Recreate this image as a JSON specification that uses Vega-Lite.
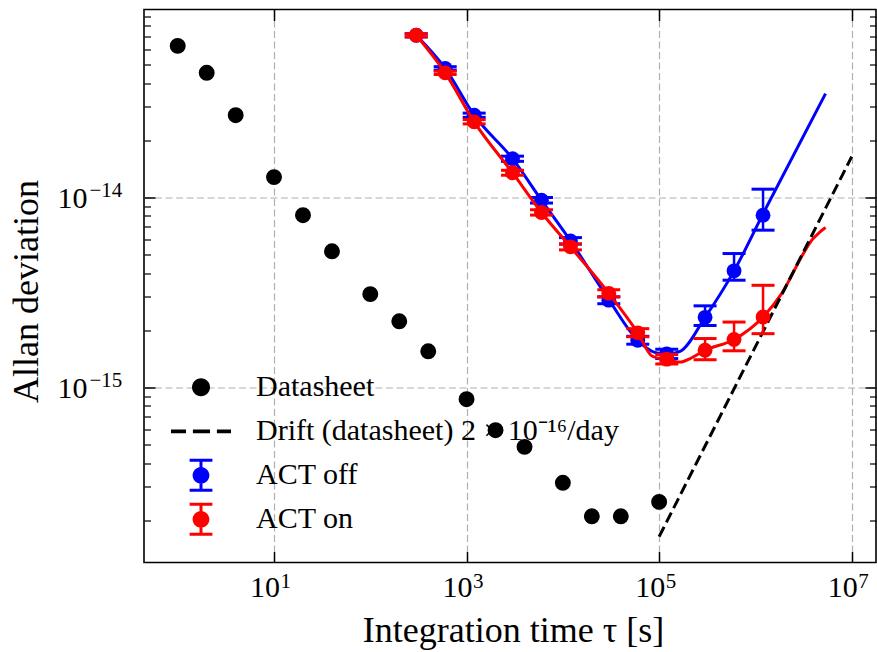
{
  "$schema": "https://vega.github.io/schema/vega-lite/v6.json",
  "autosize": {"type": "none"},
  "padding": {"left": 144, "top": 9.5, "right": 1, "bottom": 89.5},
  "width": 732,
  "height": 553,
  "background": "white",
  "config": {
    "font": "Liberation Serif",
    "view": {"stroke": "black", "strokeWidth": 1.6},
    "axis": {
      "domain": false,
      "labelFont": "Liberation Serif",
      "titleFont": "Liberation Serif",
      "labelColor": "black",
      "titleColor": "black",
      "tickColor": "black",
      "titleFontWeight": "normal",
      "gridColor": "#b0b0b0",
      "gridDash": [7, 3.5],
      "gridWidth": 1.2,
      "labelFlush": false,
      "labelOverlap": false
    }
  },
  "datasets": {
    "sheet": [
      {"tau": 1, "adev": 6.28e-14},
      {"tau": 2, "adev": 4.53e-14},
      {"tau": 4, "adev": 2.71e-14},
      {"tau": 10, "adev": 1.28e-14},
      {"tau": 20, "adev": 8.07e-15},
      {"tau": 40, "adev": 5.21e-15},
      {"tau": 100, "adev": 3.1e-15},
      {"tau": 200, "adev": 2.23e-15},
      {"tau": 400, "adev": 1.55e-15},
      {"tau": 1000, "adev": 8.68e-16},
      {"tau": 2000, "adev": 5.96e-16},
      {"tau": 4000, "adev": 4.87e-16},
      {"tau": 10000, "adev": 3.15e-16},
      {"tau": 20000, "adev": 2.1e-16},
      {"tau": 40000, "adev": 2.1e-16},
      {"tau": 100000, "adev": 2.5e-16}
    ],
    "drift": [
      {"tau": 100000, "adev": 1.64e-16},
      {"tau": 10000000, "adev": 1.64e-14}
    ],
    "act": [
      {"series": "ACT off", "tau": 300, "adev": 7.14e-14, "lo": 7.0e-14, "hi": 7.28e-14},
      {"series": "ACT off", "tau": 600, "adev": 4.78e-14, "lo": 4.68e-14, "hi": 4.88e-14},
      {"series": "ACT off", "tau": 1200, "adev": 2.71e-14, "lo": 2.64e-14, "hi": 2.78e-14},
      {"series": "ACT off", "tau": 3000, "adev": 1.6e-14, "lo": 1.55e-14, "hi": 1.65e-14},
      {"series": "ACT off", "tau": 6000, "adev": 9.68e-15, "lo": 9.35e-15, "hi": 1.0e-14},
      {"series": "ACT off", "tau": 12000, "adev": 5.91e-15, "lo": 5.68e-15, "hi": 6.15e-15},
      {"series": "ACT off", "tau": 30000, "adev": 2.88e-15, "lo": 2.76e-15, "hi": 3.0e-15},
      {"series": "ACT off", "tau": 60000, "adev": 1.77e-15, "lo": 1.69e-15, "hi": 1.86e-15},
      {"series": "ACT off", "tau": 120000, "adev": 1.5e-15, "lo": 1.42e-15, "hi": 1.59e-15},
      {"series": "ACT off", "tau": 300000, "adev": 2.34e-15, "lo": 2.12e-15, "hi": 2.69e-15},
      {"series": "ACT off", "tau": 600000, "adev": 4.11e-15, "lo": 3.67e-15, "hi": 5.07e-15},
      {"series": "ACT off", "tau": 1200000, "adev": 8.07e-15, "lo": 6.73e-15, "hi": 1.106e-14},
      {"series": "ACT on", "tau": 300, "adev": 7.14e-14, "lo": 7.0e-14, "hi": 7.28e-14},
      {"series": "ACT on", "tau": 600, "adev": 4.53e-14, "lo": 4.44e-14, "hi": 4.62e-14},
      {"series": "ACT on", "tau": 1200, "adev": 2.5e-14, "lo": 2.44e-14, "hi": 2.57e-14},
      {"series": "ACT on", "tau": 3000, "adev": 1.35e-14, "lo": 1.31e-14, "hi": 1.39e-14},
      {"series": "ACT on", "tau": 6000, "adev": 8.34e-15, "lo": 8.08e-15, "hi": 8.62e-15},
      {"series": "ACT on", "tau": 12000, "adev": 5.5e-15, "lo": 5.3e-15, "hi": 5.7e-15},
      {"series": "ACT on", "tau": 30000, "adev": 3.13e-15, "lo": 3.0e-15, "hi": 3.27e-15},
      {"series": "ACT on", "tau": 60000, "adev": 1.94e-15, "lo": 1.85e-15, "hi": 2.04e-15},
      {"series": "ACT on", "tau": 120000, "adev": 1.41e-15, "lo": 1.33e-15, "hi": 1.49e-15},
      {"series": "ACT on", "tau": 300000, "adev": 1.57e-15, "lo": 1.4e-15, "hi": 1.81e-15},
      {"series": "ACT on", "tau": 600000, "adev": 1.79e-15, "lo": 1.56e-15, "hi": 2.21e-15},
      {"series": "ACT on", "tau": 1200000, "adev": 2.35e-15, "lo": 1.92e-15, "hi": 3.45e-15}
    ],
    "fit": [
      {"series": "ACT off", "tau": 300, "adev": 7.14e-14},
      {"series": "ACT off", "tau": 600, "adev": 4.78e-14},
      {"series": "ACT off", "tau": 1200, "adev": 2.71e-14},
      {"series": "ACT off", "tau": 3000, "adev": 1.6e-14},
      {"series": "ACT off", "tau": 6000, "adev": 9.68e-15},
      {"series": "ACT off", "tau": 12000, "adev": 5.91e-15},
      {"series": "ACT off", "tau": 30000, "adev": 2.9e-15},
      {"series": "ACT off", "tau": 60000, "adev": 1.77e-15},
      {"series": "ACT off", "tau": 90000, "adev": 1.53e-15},
      {"series": "ACT off", "tau": 120000, "adev": 1.5e-15},
      {"series": "ACT off", "tau": 165000, "adev": 1.55e-15},
      {"series": "ACT off", "tau": 300000, "adev": 2.34e-15},
      {"series": "ACT off", "tau": 600000, "adev": 4.11e-15},
      {"series": "ACT off", "tau": 1200000, "adev": 8.2e-15},
      {"series": "ACT off", "tau": 5350000, "adev": 3.52e-14},
      {"series": "ACT on", "tau": 300, "adev": 7.14e-14},
      {"series": "ACT on", "tau": 600, "adev": 4.53e-14},
      {"series": "ACT on", "tau": 1200, "adev": 2.5e-14},
      {"series": "ACT on", "tau": 3000, "adev": 1.35e-14},
      {"series": "ACT on", "tau": 6000, "adev": 8.34e-15},
      {"series": "ACT on", "tau": 12000, "adev": 5.5e-15},
      {"series": "ACT on", "tau": 30000, "adev": 3.13e-15},
      {"series": "ACT on", "tau": 60000, "adev": 1.94e-15},
      {"series": "ACT on", "tau": 85000, "adev": 1.46e-15},
      {"series": "ACT on", "tau": 120000, "adev": 1.4e-15},
      {"series": "ACT on", "tau": 165000, "adev": 1.36e-15},
      {"series": "ACT on", "tau": 210000, "adev": 1.42e-15},
      {"series": "ACT on", "tau": 300000, "adev": 1.57e-15},
      {"series": "ACT on", "tau": 600000, "adev": 1.79e-15},
      {"series": "ACT on", "tau": 1200000, "adev": 2.35e-15},
      {"series": "ACT on", "tau": 1880000, "adev": 3.13e-15},
      {"series": "ACT on", "tau": 3150000, "adev": 5.07e-15},
      {"series": "ACT on", "tau": 3850000, "adev": 5.96e-15},
      {"series": "ACT on", "tau": 4690000, "adev": 6.59e-15},
      {"series": "ACT on", "tau": 5350000, "adev": 6.95e-15}
    ],
    "legend": [
      {"series": "Datasheet", "tau": 1, "adev": 1e-15},
      {"series": "Drift (datasheet) 2 × 10⁻¹⁶/day", "tau": 1, "adev": 1e-15},
      {"series": "ACT off", "tau": 1, "adev": 1e-15},
      {"series": "ACT on", "tau": 1, "adev": 1e-15}
    ]
  },
  "resolve": {"axis": {"x": "independent", "y": "independent"}},
  "layer": [
    {
      "data": {"name": "sheet"},
      "mark": {"type": "point", "filled": true, "shape": "circle", "size": 254, "color": "black", "opacity": 1},
      "encoding": {
        "x": {"field": "tau", "type": "quantitative",
              "scale": {"type": "log", "domain": [0.4465, 17883000], "nice": false},
              "axis": {"orient": "bottom", "values": [10, 1000, 100000, 10000000],
                       "labelExpr": "'10'", "labelFontSize": 30, "labelAlign": "center", "labelBaseline": "alphabetic",
                       "labelOffset": -9.5, "labelPadding": 33.5, "ticks": false, "grid": true,
                       "title": "Integration time τ [s]", "titleFontSize": 36,
                       "titleBaseline": "alphabetic", "titleAlign": "center", "titleX": 369, "titleY": 79}},
        "y": {"field": "adev", "type": "quantitative",
              "scale": {"type": "log", "domain": [1.1993e-16, 9.759e-14], "nice": false},
              "axis": {"orient": "left", "values": [1e-15, 1e-14],
                       "labelExpr": "'10'", "labelFontSize": 30, "labelAlign": "right", "labelBaseline": "alphabetic",
                       "labelOffset": 10.5, "labelPadding": 57, "ticks": false, "grid": true,
                       "title": "Allan deviation", "titleFontSize": 36, "titleAngle": 270,
                       "titleBaseline": "alphabetic", "titleAlign": "center", "titleX": -107, "titleY": 281.5}}
      }
    },
    {
      "data": {"name": "fit"},
      "transform": [{"filter": "datum.series == 'ACT off'"}],
      "mark": {"type": "line", "color": "blue", "strokeWidth": 3, "interpolate": "monotone"},
      "encoding": {
        "x": {"field": "tau", "type": "quantitative", "scale": {"type": "log", "domain": [0.4465, 17883000], "nice": false},
              "axis": {"orient": "bottom", "values": [10, 1000, 100000, 10000000],
                       "labelExpr": "datum.value < 50 ? '1' : datum.value < 5000 ? '3' : datum.value < 500000 ? '5' : '7'",
                       "labelFontSize": 21, "labelAlign": "left", "labelBaseline": "alphabetic", "labelOffset": 6,
                       "labelPadding": 24.5, "ticks": false, "grid": false, "title": null}},
        "y": {"field": "adev", "type": "quantitative", "scale": {"type": "log", "domain": [1.1993e-16, 9.759e-14], "nice": false},
              "axis": {"orient": "left", "values": [1e-15, 1e-14],
                       "labelExpr": "datum.value < 5e-15 ? '−15' : '−14'",
                       "labelFontSize": 21, "labelAlign": "left", "labelBaseline": "alphabetic", "labelOffset": -0.5,
                       "labelPadding": 55, "ticks": false, "grid": false, "title": null}}
      }
    },
    {
      "data": {"name": "act"},
      "transform": [{"filter": "datum.series == 'ACT off'"}],
      "mark": {"type": "rule", "color": "blue", "strokeWidth": 2.5},
      "encoding": {
        "x": {"field": "tau", "type": "quantitative", "scale": {"type": "log", "domain": [0.4465, 17883000], "nice": false},
              "axis": {"orient": "bottom", "values": [10, 1000, 100000, 10000000], "labels": false, "ticks": true, "tickSize": -11, "tickWidth": 1.5, "grid": false, "title": null}},
        "y": {"field": "lo", "type": "quantitative", "scale": {"type": "log", "domain": [1.1993e-16, 9.759e-14], "nice": false},
              "axis": {"orient": "left", "values": [1e-15, 1e-14], "labels": false, "ticks": true, "tickSize": -11, "tickWidth": 1.5, "grid": false, "title": null}},
        "y2": {"field": "hi"}
      }
    },
    {
      "data": {"name": "act"},
      "transform": [{"filter": "datum.series == 'ACT off'"}],
      "mark": {"type": "tick", "orient": "horizontal", "color": "blue", "size": 23, "thickness": 3, "opacity": 1},
      "encoding": {
        "x": {"field": "tau", "type": "quantitative", "scale": {"type": "log", "domain": [0.4465, 17883000], "nice": false},
              "axis": {"orient": "top", "values": [10, 1000, 100000, 10000000], "labels": false, "ticks": true, "tickSize": -11, "tickWidth": 1.5, "grid": false, "title": null}},
        "y": {"field": "lo", "type": "quantitative", "scale": {"type": "log", "domain": [1.1993e-16, 9.759e-14], "nice": false},
              "axis": {"orient": "left", "values": [2e-16, 3e-16, 4e-16, 5e-16, 6e-16, 7e-16, 8e-16, 9e-16, 2e-15, 3e-15, 4e-15, 5e-15, 6e-15, 7e-15, 8e-15, 9e-15, 2e-14, 3e-14, 4e-14, 5e-14, 6e-14, 7e-14, 8e-14, 9e-14], "labels": false, "ticks": true, "tickSize": -6.5, "tickWidth": 1.2, "grid": false, "title": null}}
      }
    },
    {
      "data": {"name": "act"},
      "transform": [{"filter": "datum.series == 'ACT off'"}],
      "mark": {"type": "tick", "orient": "horizontal", "color": "blue", "size": 23, "thickness": 3, "opacity": 1},
      "encoding": {
        "x": {"field": "tau", "type": "quantitative", "scale": {"type": "log", "domain": [0.4465, 17883000], "nice": false}, "axis": null},
        "y": {"field": "hi", "type": "quantitative", "scale": {"type": "log", "domain": [1.1993e-16, 9.759e-14], "nice": false},
              "axis": {"orient": "right", "values": [1e-15, 1e-14], "labels": false, "ticks": true, "tickSize": -11, "tickWidth": 1.5, "grid": false, "title": null}}
      }
    },
    {
      "data": {"name": "act"},
      "transform": [{"filter": "datum.series == 'ACT off'"}],
      "mark": {"type": "point", "filled": true, "shape": "circle", "size": 220, "color": "blue", "opacity": 1},
      "encoding": {
        "x": {"field": "tau", "type": "quantitative", "scale": {"type": "log", "domain": [0.4465, 17883000], "nice": false}, "axis": null},
        "y": {"field": "adev", "type": "quantitative", "scale": {"type": "log", "domain": [1.1993e-16, 9.759e-14], "nice": false},
              "axis": {"orient": "right", "values": [2e-16, 3e-16, 4e-16, 5e-16, 6e-16, 7e-16, 8e-16, 9e-16, 2e-15, 3e-15, 4e-15, 5e-15, 6e-15, 7e-15, 8e-15, 9e-15, 2e-14, 3e-14, 4e-14, 5e-14, 6e-14, 7e-14, 8e-14, 9e-14], "labels": false, "ticks": true, "tickSize": -6.5, "tickWidth": 1.2, "grid": false, "title": null}}
      }
    },
    {
      "data": {"name": "fit"},
      "transform": [{"filter": "datum.series == 'ACT on'"}],
      "mark": {"type": "line", "color": "red", "strokeWidth": 3, "interpolate": "monotone"},
      "encoding": {
        "x": {"field": "tau", "type": "quantitative", "scale": {"type": "log", "domain": [0.4465, 17883000], "nice": false}, "axis": null},
        "y": {"field": "adev", "type": "quantitative", "scale": {"type": "log", "domain": [1.1993e-16, 9.759e-14], "nice": false}, "axis": null}
      }
    },
    {
      "data": {"name": "drift"},
      "mark": {"type": "line", "color": "black", "strokeWidth": 3, "strokeDash": [11, 5]},
      "encoding": {
        "x": {"field": "tau", "type": "quantitative", "scale": {"type": "log", "domain": [0.4465, 17883000], "nice": false}, "axis": null},
        "y": {"field": "adev", "type": "quantitative", "scale": {"type": "log", "domain": [1.1993e-16, 9.759e-14], "nice": false}, "axis": null}
      }
    },
    {
      "data": {"name": "act"},
      "transform": [{"filter": "datum.series == 'ACT on'"}],
      "mark": {"type": "rule", "color": "red", "strokeWidth": 2.5},
      "encoding": {
        "x": {"field": "tau", "type": "quantitative", "scale": {"type": "log", "domain": [0.4465, 17883000], "nice": false}, "axis": null},
        "y": {"field": "lo", "type": "quantitative", "scale": {"type": "log", "domain": [1.1993e-16, 9.759e-14], "nice": false}, "axis": null},
        "y2": {"field": "hi"}
      }
    },
    {
      "data": {"name": "act"},
      "transform": [{"filter": "datum.series == 'ACT on'"}],
      "mark": {"type": "tick", "orient": "horizontal", "color": "red", "size": 23, "thickness": 3, "opacity": 1},
      "encoding": {
        "x": {"field": "tau", "type": "quantitative", "scale": {"type": "log", "domain": [0.4465, 17883000], "nice": false}, "axis": null},
        "y": {"field": "lo", "type": "quantitative", "scale": {"type": "log", "domain": [1.1993e-16, 9.759e-14], "nice": false}, "axis": null}
      }
    },
    {
      "data": {"name": "act"},
      "transform": [{"filter": "datum.series == 'ACT on'"}],
      "mark": {"type": "tick", "orient": "horizontal", "color": "red", "size": 23, "thickness": 3, "opacity": 1},
      "encoding": {
        "x": {"field": "tau", "type": "quantitative", "scale": {"type": "log", "domain": [0.4465, 17883000], "nice": false}, "axis": null},
        "y": {"field": "hi", "type": "quantitative", "scale": {"type": "log", "domain": [1.1993e-16, 9.759e-14], "nice": false}, "axis": null}
      }
    },
    {
      "data": {"name": "act"},
      "transform": [{"filter": "datum.series == 'ACT on'"}],
      "mark": {"type": "point", "filled": true, "shape": "circle", "size": 220, "color": "red", "opacity": 1},
      "encoding": {
        "x": {"field": "tau", "type": "quantitative", "scale": {"type": "log", "domain": [0.4465, 17883000], "nice": false}, "axis": null},
        "y": {"field": "adev", "type": "quantitative", "scale": {"type": "log", "domain": [1.1993e-16, 9.759e-14], "nice": false}, "axis": null}
      }
    },
    {
      "data": {"name": "legend"},
      "transform": [{"filter": "datum.tau < 0"}],
      "mark": {"type": "point", "filled": true, "opacity": 1},
      "encoding": {
        "x": {"field": "tau", "type": "quantitative", "scale": {"type": "log", "domain": [0.4465, 17883000], "nice": false}, "axis": null},
        "y": {"field": "adev", "type": "quantitative", "scale": {"type": "log", "domain": [1.1993e-16, 9.759e-14], "nice": false}, "axis": null},
        "color": {"field": "series", "type": "nominal",
                  "scale": {"domain": ["Datasheet", "Drift (datasheet) 2 × 10⁻¹⁶/day", "ACT off", "ACT on"], "range": ["black", "black", "blue", "red"]},
                  "legend": {"orient": "none", "legendX": 27, "legendY": 356, "title": null, "padding": 0, "rowPadding": 0,
                             "symbolSize": 3600, "clipHeight": 43.7, "symbolStrokeWidth": 0, "symbolOpacity": 1,
                             "labelFont": "Liberation Serif", "labelFontSize": 30, "labelColor": "black", "labelOffset": 25, "labelLimit": 0}},
        "shape": {"field": "series", "type": "nominal",
                  "scale": {"domain": ["Datasheet", "Drift (datasheet) 2 × 10⁻¹⁶/day", "ACT off", "ACT on"],
                            "range": [
                              "M-0.3,0A0.3,0.3,0,1,1,0.3,0A0.3,0.3,0,1,1,-0.3,0Z",
                              "M-1,-0.06H-0.5V0.06H-1Z M-0.27,-0.06H0.3V0.06H-0.27Z M0.53,-0.06H1V0.06H0.53Z",
                              "M-0.28,0A0.28,0.28,0,1,1,0.28,0A0.28,0.28,0,1,1,-0.28,0Z M-0.05,-0.5H0.05V0.5H-0.05Z M-0.38,-0.55H0.38V-0.45H-0.38Z M-0.38,0.45H0.38V0.55H-0.38Z",
                              "M-0.28,0A0.28,0.28,0,1,1,0.28,0A0.28,0.28,0,1,1,-0.28,0Z M-0.05,-0.5H0.05V0.5H-0.05Z M-0.38,-0.55H0.38V-0.45H-0.38Z M-0.38,0.45H0.38V0.55H-0.38Z"
                            ]},
                  "legend": {"orient": "none", "legendX": 27, "legendY": 356, "title": null, "padding": 0, "rowPadding": 0,
                             "symbolSize": 3600, "clipHeight": 43.7, "symbolStrokeWidth": 0, "symbolOpacity": 1,
                             "labelFont": "Liberation Serif", "labelFontSize": 30, "labelColor": "black", "labelOffset": 25, "labelLimit": 0}}
      }
    }
  ]
}
